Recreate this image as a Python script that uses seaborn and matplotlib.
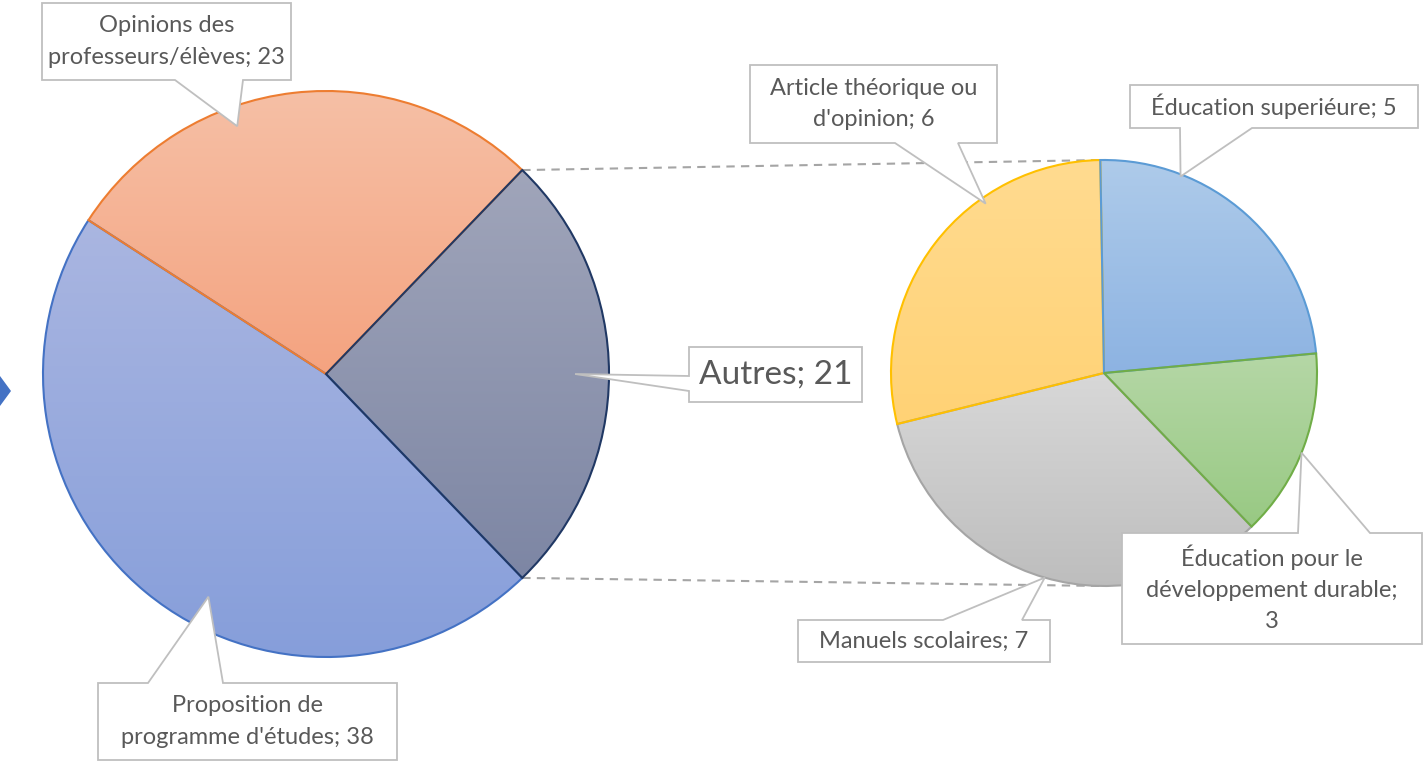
import numpy as np
import matplotlib
matplotlib.use("Agg")
import matplotlib.pyplot as plt
from matplotlib.colors import LinearSegmentedColormap
from matplotlib.patches import Polygon
import seaborn as sns

sns.set_theme(style="white")
plt.rcParams['font.family'] = ['Lato', 'DejaVu Sans']

# ---------------- data ----------------
main_labels = ["Autres", "Opinions des\nprofesseurs/élèves", "Proposition de\nprogramme d'études"]
main_values = [21, 23, 38]
sub_labels = ["Éducation superiéure", "Éducation pour le\ndéveloppement durable;", "Manuels scolaires", "Article théorique ou\nd'opinion"]
sub_values = [5, 3, 7, 6]

main_top = ["#A0A5BA", "#F6C0A6", "#AAB6E1"]
main_bot = ["#7D86A4", "#F4A380", "#869EDA"]
main_edge = ["#203864", "#ED7D31", "#4472C4"]
sub_top = ["#AECBEA", "#B5D7A6", "#D8D8D8", "#FFDB90"]
sub_bot = ["#8DB3E2", "#98C983", "#BDBDBD", "#FFD275"]
sub_edge = ["#5B9BD5", "#70AD47", "#A5A5A5", "#FFC000"]

W, H = 1427, 761
fig = plt.figure(figsize=(W / 100, H / 100), dpi=100)
ax = fig.add_axes([0, 0, 1, 1])

def P(x, y):
    return (x, H - y)

mc = P(326, 374); mr = 283
sc = P(1104, 373); sr = 213

m_start = -main_values[0] / sum(main_values) * 180
mw, _ = ax.pie(main_values, center=mc, radius=mr, startangle=m_start, counterclock=True,
               wedgeprops=dict(linewidth=1.5, facecolor="none"), frame=True)
sw, _ = ax.pie(sub_values, center=sc, radius=sr, startangle=91, counterclock=False,
               wedgeprops=dict(linewidth=1.5, facecolor="none"), frame=True)

def grad_fill(w, top, bot, edge, z):
    verts = w.get_patch_transform().transform(w.get_path().vertices)
    x0, y0 = verts.min(axis=0); x1, y1 = verts.max(axis=0)
    cmap = LinearSegmentedColormap.from_list("g", [bot, top])
    g = np.linspace(0, 1, 256).reshape(-1, 1)
    im = ax.imshow(g, cmap=cmap, extent=[x0, x1, y0, y1], origin="lower",
                   aspect="auto", zorder=1, interpolation="bilinear")
    im.set_clip_path(w)
    w.set_edgecolor(edge)
    w.set_zorder(z)

for w, t, b, e, z in zip(mw, main_top, main_bot, main_edge, [2.4, 2.3, 2.2]):
    grad_fill(w, t, b, e, z)
for w, t, b, e, z in zip(sw, sub_top, sub_bot, sub_edge, [2.3, 2.4, 2.1, 2.2]):
    grad_fill(w, t, b, e, z)
ax.set_xlim(0, W); ax.set_ylim(0, H); ax.set_aspect("equal"); ax.axis("off")

def polar(c, r, ang):
    a = np.deg2rad(ang)
    return (c[0] + r * np.cos(a), c[1] + r * np.sin(a))

# connector dashed lines
a_top = mw[0].theta2; a_bot = mw[0].theta1
p1 = polar(mc, mr, a_top); p2 = polar(mc, mr, a_bot)
q1 = polar(sc, sr, 91); q2 = polar(sc, sr, -91)
ax.plot([p1[0], q1[0]], [p1[1], q1[1]], ls=(0, (4, 3)), color="#A5A5A5", lw=1.5, zorder=0)
ax.plot([p2[0], q2[0]], [p2[1], q2[1]], ls=(0, (4, 3)), color="#A5A5A5", lw=1.5, zorder=0)

# callouts
def callout(box, side, n0, n1, anchor, text, fs):
    x0, y0, x1, y1 = box  # pixel coords, y down
    if side == "bottom":
        pts = [(x0, y0), (x1, y0), (x1, y1), (n1, y1), "A", (n0, y1), (x0, y1)]
    elif side == "top":
        pts = [(x0, y0), (n0, y0), "A", (n1, y0), (x1, y0), (x1, y1), (x0, y1)]
    else:  # left
        pts = [(x0, y0), (x1, y0), (x1, y1), (x0, y1), (x0, n1), "A", (x0, n0)]
    verts = [anchor if p == "A" else P(*p) for p in pts]
    ax.add_patch(Polygon(verts, closed=True, facecolor="white", edgecolor="#BFBFBF",
                         lw=1.3, zorder=5))
    ax.text((x0 + x1) / 2, H - (y0 + y1) / 2, text, ha="center", va="center",
            fontsize=fs, color="#595959", zorder=6, linespacing=1.6)

def main_anchor(i, t, rf):
    w = mw[i]
    return polar(mc, rf * mr, w.theta1 + t * (w.theta2 - w.theta1))

def sub_anchor(i, t, rf):
    w = sw[i]
    return polar(sc, rf * sr, w.theta2 - t * (w.theta2 - w.theta1))

FS = 17
callout((42, 3, 291, 80), "bottom", 175, 243, main_anchor(1, 0.63, 0.93),
        f"{main_labels[1]}; {main_values[1]}", FS)
callout((689, 347, 862, 402), "left", 376, 391, main_anchor(0, 0.5, 0.88),
        f"{main_labels[0]}; {main_values[0]}", 24)
callout((98, 683, 397, 760), "top", 148, 223, main_anchor(2, 0.57, 0.89),
        f"{main_labels[2]}; {main_values[2]}", FS)
callout((750, 65, 997, 143), "bottom", 895, 958, sub_anchor(3, 0.67, 0.97),
        f"{sub_labels[3]}; {sub_values[3]}", FS)
callout((1130, 85, 1418, 128), "bottom", 1180, 1252, sub_anchor(0, 0.26, 0.99),
        f"{sub_labels[0]}; {sub_values[0]}", FS)
callout((1122, 533, 1422, 644), "top", 1298, 1370, sub_anchor(1, 0.53, 1.0),
        f"{sub_labels[1]}\n{sub_values[1]}", FS)
callout((798, 620, 1050, 662), "top", 943, 1022, sub_anchor(2, 0.5, 1.0),
        f"{sub_labels[2]}; {sub_values[2]}", FS)

# partial arrow at the left edge
ax.add_patch(Polygon([P(0, 376), P(11, 391), P(0, 406)], closed=True,
                     facecolor="#4472C4", edgecolor="none", zorder=3))

fig.savefig("out.png", dpi=100)
